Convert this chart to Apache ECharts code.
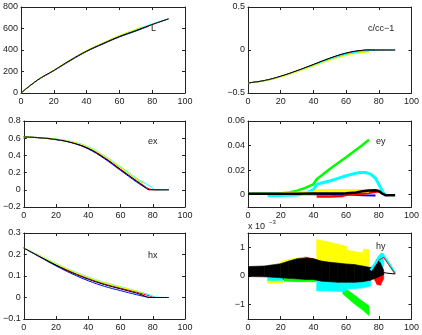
<!DOCTYPE html>
<html>
<head>
<meta charset="utf-8">
<script src="https://cdn.jsdelivr.net/npm/echarts@6/dist/echarts.min.js"></script>
<style>
  html, body { margin: 0; padding: 0; background: #fff; }
  #chart { width: 422px; height: 335px; }
</style>
</head>
<body>
<div id="chart"></div>
<script>
// shared x samples for the smooth panels (L, c/cc-1, ex, hx)
const xs = [0, 10, 20, 30, 40, 50, 60, 70, 74, 78, 82, 90];

// L
const lBlue   = [0, 118, 207, 300, 386, 456, 521, 576, 599, 622];
const lGreen  = [0, 120, 211, 306, 393, 465, 532, 590, 614];
const lRed    = [0, 119, 209, 304, 390, 461, 527, 582, 605, 627, 648, 690];
const lCyan   = [0, 120, 210, 306, 392, 464, 530, 586, 609, 631, 652, 692];
const lYellow = [0, 120, 212, 308, 396, 469, 537, 594, 618];
const lBlack  = [0, 120, 210, 305, 390, 460, 525, 580, 603, 626, 648, 690];

// c/cc-1
const ccBlue   = [-0.383, -0.356, -0.307, -0.243, -0.172, -0.1, -0.04, -0.006, -0.001, 0];
const ccGreen  = [-0.383, -0.358, -0.312, -0.25, -0.182, -0.113, -0.056, -0.024, -0.018];
const ccRed    = [-0.383, -0.356, -0.306, -0.242, -0.17, -0.098, -0.038, -0.005, -0.001, 0, 0, 0];
const ccCyan   = [-0.383, -0.357, -0.31, -0.247, -0.177, -0.106, -0.047, -0.012, -0.005, 0, 0, 0];
const ccYellow = [-0.383, -0.359, -0.314, -0.254, -0.187, -0.119, -0.063, -0.029, -0.024];
const ccBlack  = [-0.383, -0.355, -0.305, -0.24, -0.168, -0.095, -0.035, -0.003, 0, 0, 0, 0];

// ex
const exBlue   = [0.615, 0.604, 0.583, 0.545, 0.475, 0.362, 0.225, 0.09, 0.04, 0];
const exGreen  = [0.615, 0.606, 0.588, 0.555, 0.495, 0.39, 0.26, 0.125, 0.078];
const exRed    = [0.615, 0.605, 0.586, 0.55, 0.485, 0.375, 0.24, 0.105, 0.055, 0.01, 0, 0];
const exCyan   = [0.615, 0.607, 0.59, 0.558, 0.5, 0.395, 0.268, 0.135, 0.09, 0.045, 0, 0];
const exYellow = [0.615, 0.607, 0.589, 0.556, 0.497, 0.392, 0.263, 0.13, 0.082];
const exBlack  = [0.615, 0.605, 0.585, 0.548, 0.48, 0.37, 0.235, 0.1, 0.048, 0, 0, 0];

// hx
const hxBlue   = [0.23, 0.188, 0.147, 0.11, 0.078, 0.052, 0.032, 0.013, 0.006, 0];
const hxGreen  = [0.23, 0.193, 0.156, 0.122, 0.093, 0.068, 0.048, 0.028, 0.02];
const hxRed    = [0.23, 0.191, 0.152, 0.118, 0.088, 0.063, 0.043, 0.024, 0.016, 0.007, 0, 0];
const hxCyan   = [0.23, 0.194, 0.158, 0.124, 0.095, 0.07, 0.05, 0.03, 0.022, 0.012, 0.002, 0];
const hxYellow = [0.23, 0.194, 0.157, 0.123, 0.094, 0.069, 0.049, 0.03, 0.022];
const hxBlack  = [0.23, 0.19, 0.15, 0.115, 0.085, 0.06, 0.04, 0.02, 0.01, 0, 0, 0];

// ey
const eyBlueX   = [0, 20, 40, 60, 70, 78];
const eyBlue    = [0.0005, 0.0005, 0.0004, 0.0003, -0.0005, -0.0006];
const eyGreenX  = [0, 10, 20, 25, 30, 35, 40, 41, 42, 50, 60, 61, 70, 74];
const eyGreen   = [0.0008, 0.0008, 0.001, 0.0018, 0.0033, 0.0055, 0.0085, 0.009, 0.0126, 0.021, 0.0305, 0.0315, 0.0405, 0.0447];
const eyRedX    = [42, 50, 58, 60, 70, 76, 80, 82, 84];
const eyRed     = [-0.0015, -0.0014, -0.001, 0, 0.0008, 0.002, 0.0028, 0.002, 0];
const eyCyanX   = [12, 20, 30, 35, 40, 41, 42, 45, 50, 55, 60, 65, 68, 72, 75, 78, 81, 83, 84];
const eyCyan    = [-0.0008, -0.0007, -0.0003, 0.0012, 0.004, 0.0045, 0.0084, 0.0095, 0.0112, 0.0133, 0.0154, 0.0172, 0.018, 0.0181, 0.0168, 0.0134, 0.006, 0.001, 0];
const eyYellowX = [20, 30, 40, 42, 50, 60, 70, 74];
const eyYellow  = [0.001, 0.0012, 0.0015, 0.003, 0.0032, 0.0032, 0.0032, 0.003];
const eyBlackX  = [0, 10, 20, 30, 40, 50, 60, 66, 70, 74, 78, 80, 82, 84, 90];
const eyBlack   = [0.0007, 0.0007, 0.0008, 0.0008, 0.0009, 0.001, 0.0012, 0.0018, 0.0028, 0.0035, 0.0037, 0.003, 0.001, -0.0004, -0.0004];

// hy (units of 1e-3), oscillating parts as low/high envelopes
const hyBlueX = [20, 25, 30, 35, 40];
const hyBlueLo = [-0.1, -0.15, -0.17, -0.17, -0.15];
const hyBlueHi = [0, 0, 0, 0, 0];
const hyGreenAX = [22, 30, 40, 42];
const hyGreenALo = [-0.18, -0.2, -0.2, -0.2];
const hyGreenAHi = [-0.05, -0.08, -0.08, -0.08];
const hyGreenBX = [58, 60, 65, 70, 74];
const hyGreenBLo = [-0.62, -0.72, -0.97, -1.18, -1.38];
const hyGreenBHi = [-0.4, -0.45, -0.66, -0.88, -1.04];
const hyRedAX = [25, 35, 45];
const hyRedALo = [0, 0, 0];
const hyRedAHi = [0.55, 0.66, 0.54];
const hyRedBX = [77, 79, 81, 83];
const hyRedBLo = [-0.1, -0.3, -0.32, -0.1];
const hyRedBHi = [0.1, 0.1, 0.1, 0.1];
const hyRedLineX = [80, 83, 86, 90];
const hyRedLine = [0.55, 0.65, 0.4, 0.08];
const hyCyanAX = [12, 21];
const hyCyanALo = [-0.2, -0.2];
const hyCyanAHi = [-0.05, -0.05];
const hyCyanBX = [42, 50, 59, 61, 70, 75];
const hyCyanBLo = [-0.52, -0.52, -0.55, -0.45, -0.42, -0.35];
const hyCyanBHi = [-0.05, -0.05, -0.02, 0.05, 0.1, 0.15];
const hyCyanCX = [76, 78, 80, 82, 83];
const hyCyanCLo = [0, 0.05, 0.1, 0.15, 0.4];
const hyCyanCHi = [0.3, 0.5, 0.7, 0.78, 0.75];
const hyCyanLineX = [75, 78, 80, 82, 83, 86, 90];
const hyCyanLine = [0.2, 0.45, 0.65, 0.78, 0.75, 0.45, 0.08];
const hyYellowAX = [12, 21];
const hyYellowALo = [-0.25, -0.25];
const hyYellowAHi = [-0.18, -0.18];
const hyYellowBX = [20, 25, 30, 35];
const hyYellowBLo = [0, 0, 0, 0];
const hyYellowBHi = [0.5, 0.58, 0.63, 0.65];
const hyYellowCX = [42, 50, 60, 61, 70, 71, 74];
const hyYellowCLo = [0.35, 0.35, 0.35, 0.35, 0.35, 0.35, 0.35];
const hyYellowCHi = [1.27, 1.18, 1.04, 0.9, 0.8, 0.94, 0.92];
const hyBlackX = [0, 10, 20, 25, 30, 35, 40, 45, 50, 55, 60, 65, 70, 75, 77, 79, 81, 83];
const hyBlackLo = [-0.02, -0.03, -0.06, -0.08, -0.1, -0.12, -0.12, -0.18, -0.2, -0.22, -0.22, -0.22, -0.2, -0.15, -0.1, -0.05, 0, 0.05];
const hyBlackHi = [0.33, 0.35, 0.43, 0.52, 0.6, 0.63, 0.6, 0.52, 0.48, 0.45, 0.42, 0.4, 0.35, 0.3, 0.35, 0.58, 0.45, 0.2];
const hyBlackLineX = [80, 85, 90];
const hyBlackLine = [0.15, 0.1, 0.07];

const C = { b: '#0000ff', g: '#00ff00', r: '#ff0000', c: '#00ffff', y: '#ffff00', k: '#000000' };
const FONT = '"Liberation Sans", Arial, Helvetica, sans-serif';
const TXT = '#222';

const layout = [
  { left: 20, top: 7, width: 165 },
  { left: 248, top: 7, width: 164 },
  { left: 20, top: 121, width: 165 },
  { left: 248, top: 121, width: 164 },
  { left: 20, top: 233, width: 165 },
  { left: 248, top: 233, width: 164 },
];
const yRanges = [
  { min: 0, max: 800, interval: 200 },
  { min: -0.5, max: 0.5, interval: 0.5 },
  { min: -0.2, max: 0.8, interval: 0.2 },
  { min: -0.01, max: 0.06, interval: 0.01, ticks: [0, 0.02, 0.04, 0.06] },
  { min: -0.1, max: 0.3, interval: 0.1 },
  { min: -1.5, max: 1.5, interval: 0.5, ticks: [-1, 0, 1] },
];

const fmt = (v) => String(+v.toFixed(4)).replace('-', '\u2212');

const grid = layout.map((g) => ({ left: g.left, top: g.top, width: g.width, height: 86 }));
const xAxis = [];
const yAxis = [];
layout.forEach((g, i) => {
  ['bottom', 'top'].forEach((pos, j) => {
    xAxis.push({
      type: 'value', gridIndex: i, position: pos, min: 0, max: 100, interval: 20,
      axisLine: { show: true, onZero: false, lineStyle: { color: '#222', width: 1 } },
      axisTick: { inside: true, length: 3, lineStyle: { color: '#222' } },
      axisLabel: { show: j === 0, fontSize: 9, fontFamily: FONT, color: TXT, margin: 4 },
      splitLine: { show: false },
    });
  });
  const r = yRanges[i];
  ['left', 'right'].forEach((pos, j) => {
    const ax = {
      type: 'value', gridIndex: i, position: pos, min: r.min, max: r.max, interval: r.interval,
      axisLine: { show: true, onZero: false, lineStyle: { color: '#222', width: 1 } },
      axisTick: { inside: true, length: 3, lineStyle: { color: '#222' } },
      axisLabel: { show: j === 0, fontSize: 9, fontFamily: FONT, color: TXT, margin: 3, formatter: fmt },
      splitLine: { show: false },
    };
    if (r.ticks) {
      ax.axisTick.customValues = r.ticks;
      ax.axisLabel.customValues = r.ticks;
    }
    yAxis.push(ax);
  });
});

const series = [];
function line(p, x, y, color, width, smooth) {
  series.push({
    type: 'line', xAxisIndex: 2 * p, yAxisIndex: 2 * p,
    data: y.map((v, k) => [x[k], v]),
    symbol: 'none', smooth: smooth || false, silent: true,
    lineStyle: { color: color, width: width || 1 },
    itemStyle: { color: color },
  });
}
// a filled band between a low and a high envelope, one quad per segment
function band(p, x, lo, hi, color) {
  const data = [];
  for (let k = 0; k < x.length - 1; k++) {
    data.push([x[k], lo[k], hi[k], x[k + 1], lo[k + 1], hi[k + 1]]);
  }
  series.push({
    type: 'custom', xAxisIndex: 2 * p, yAxisIndex: 2 * p, silent: true, clip: true,
    encode: { x: [0, 3], y: [1, 2, 4, 5] },
    data: data,
    renderItem: (params, api) => {
      const a = api.coord([api.value(0), api.value(1)]);
      const b = api.coord([api.value(3), api.value(4)]);
      const c = api.coord([api.value(3), api.value(5)]);
      const d = api.coord([api.value(0), api.value(2)]);
      return {
        type: 'polygon',
        shape: { points: [a, b, c, d] },
        style: { fill: color, stroke: color, lineWidth: 0.6 },
      };
    },
  });
}

const smoothSets = [
  [lBlue, lGreen, lRed, lCyan, lYellow, lBlack],
  [ccBlue, ccGreen, ccRed, ccCyan, ccYellow, ccBlack],
  [exBlue, exGreen, exRed, exCyan, exYellow, exBlack],
  null,
  [hxBlue, hxGreen, hxRed, hxCyan, hxYellow, hxBlack],
];
const order = ['b', 'g', 'r', 'c', 'y', 'k'];
smoothSets.forEach((set, p) => {
  if (!set) return;
  set.forEach((ys, k) => line(p, xs, ys, C[order[k]], 1, 0.4));
});

// ey
line(3, eyBlueX, eyBlue, C.b, 2);
line(3, eyGreenX, eyGreen, C.g, 2.5);
line(3, eyRedX, eyRed, C.r, 2.5);
line(3, eyCyanX, eyCyan, C.c, 3);
line(3, eyYellowX, eyYellow, C.y, 3.5);
line(3, eyBlackX, eyBlack, C.k, 2.5);

// hy
band(5, hyBlueX, hyBlueLo, hyBlueHi, C.b);
band(5, hyGreenAX, hyGreenALo, hyGreenAHi, C.g);
band(5, hyGreenBX, hyGreenBLo, hyGreenBHi, C.g);
band(5, hyRedAX, hyRedALo, hyRedAHi, C.r);
band(5, hyRedBX, hyRedBLo, hyRedBHi, C.r);
band(5, hyCyanAX, hyCyanALo, hyCyanAHi, C.c);
band(5, hyCyanBX, hyCyanBLo, hyCyanBHi, C.c);
band(5, hyCyanCX, hyCyanCLo, hyCyanCHi, C.c);
line(5, hyCyanLineX, hyCyanLine, C.c, 2.5);
line(5, hyRedLineX, hyRedLine, C.r, 1);
band(5, hyYellowAX, hyYellowALo, hyYellowAHi, C.y);
band(5, hyYellowBX, hyYellowBLo, hyYellowBHi, C.y);
band(5, hyYellowCX, hyYellowCLo, hyYellowCHi, C.y);
band(5, hyBlackX, hyBlackLo, hyBlackHi, C.k);
line(5, hyBlackLineX, hyBlackLine, C.k, 1);

const labelText = (text, x, y) => ({
  type: 'text', x: x, y: y,
  style: { text: text, fill: TXT, font: '9px ' + FONT, textVerticalAlign: 'middle' },
});

const chart = echarts.init(document.getElementById('chart'));
chart.setOption({
  animation: false,
  backgroundColor: '#fff',
  grid: grid,
  xAxis: xAxis,
  yAxis: yAxis,
  series: series,
  graphic: [
    labelText('L', 151, 29),
    labelText('c/cc\u22121', 368, 29),
    labelText('ex', 148, 142),
    labelText('ey', 376, 142),
    labelText('hx', 148, 256),
    labelText('hy', 376, 247),
    labelText('x 10', 248, 227),
    { type: 'text', x: 269, y: 222, style: { text: '\u22123', fill: TXT, font: '6px ' + FONT, textVerticalAlign: 'middle' } },
  ],
});
</script>
</body>
</html>
